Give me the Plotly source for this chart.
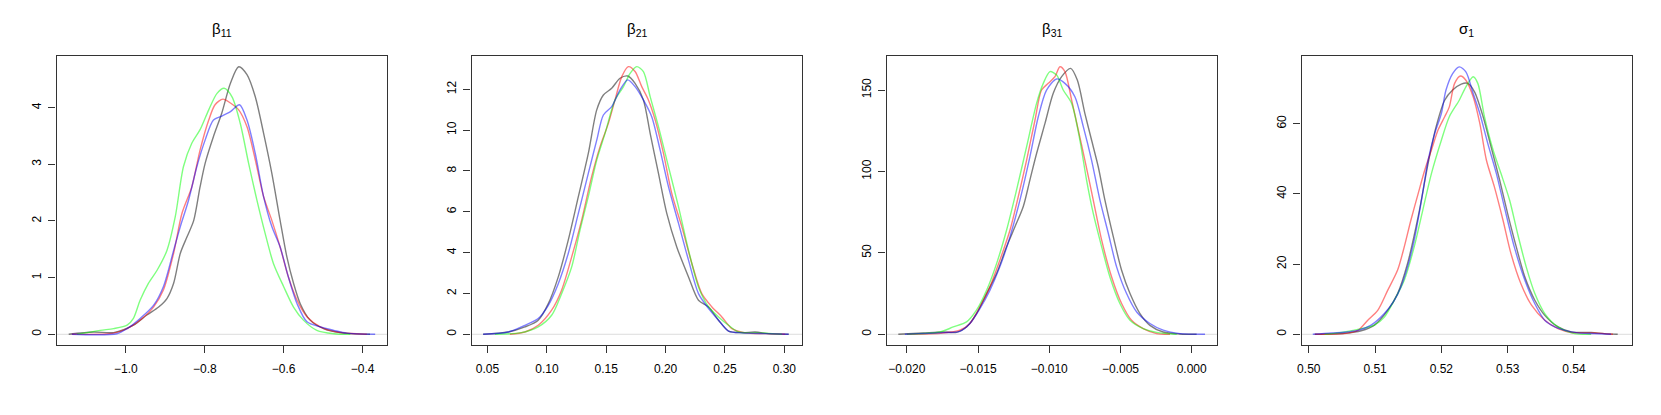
import plotly.graph_objects as go

W, H = 1661, 415

# ---- panel 1: beta_11 ----
b11_gray_x = [-1.145, -1.082, -1.031, -0.981, -0.947, -0.917, -0.896, -0.879, -0.862, -0.845, -0.828, -0.812, -0.799, -0.778, -0.757, -0.735, -0.714, -0.693, -0.672, -0.651, -0.630, -0.609, -0.592, -0.575, -0.558, -0.533, -0.499, -0.457, -0.381]
b11_gray_y = [0, 0.04, 0.03, 0.16, 0.34, 0.48, 0.63, 0.90, 1.43, 1.72, 2.01, 2.60, 3.02, 3.49, 3.90, 4.43, 4.72, 4.58, 4.19, 3.55, 2.84, 2.01, 1.37, 0.90, 0.54, 0.25, 0.10, 0.03, 0]
b11_red_x = [-1.137, -1.031, -0.997, -0.964, -0.930, -0.905, -0.879, -0.858, -0.833, -0.812, -0.790, -0.774, -0.754, -0.735, -0.714, -0.693, -0.672, -0.651, -0.630, -0.609, -0.588, -0.566, -0.541, -0.507, -0.465, -0.389]
b11_red_y = [0, 0.02, 0.10, 0.25, 0.48, 0.78, 1.43, 2.13, 2.60, 3.25, 3.78, 4.05, 4.15, 4.08, 3.96, 3.66, 3.08, 2.43, 2.01, 1.54, 1.01, 0.60, 0.31, 0.13, 0.04, 0]
b11_green_x = [-1.124, -1.065, -1.031, -0.997, -0.981, -0.964, -0.943, -0.921, -0.896, -0.875, -0.854, -0.833, -0.812, -0.790, -0.769, -0.751, -0.731, -0.710, -0.689, -0.668, -0.647, -0.626, -0.600, -0.575, -0.550, -0.516, -0.473, -0.431]
b11_green_y = [0, 0.07, 0.10, 0.16, 0.28, 0.60, 0.90, 1.13, 1.48, 2.07, 2.96, 3.37, 3.61, 3.96, 4.25, 4.34, 4.19, 3.72, 3.02, 2.37, 1.78, 1.25, 0.84, 0.48, 0.25, 0.07, 0.01, 0]
b11_blue_x = [-1.137, -1.023, -0.997, -0.964, -0.930, -0.905, -0.879, -0.862, -0.841, -0.820, -0.799, -0.778, -0.757, -0.735, -0.712, -0.693, -0.672, -0.651, -0.630, -0.609, -0.588, -0.566, -0.541, -0.507, -0.473, -0.440, -0.368]
b11_blue_y = [0, 0.01, 0.10, 0.28, 0.51, 0.84, 1.48, 1.90, 2.37, 2.96, 3.43, 3.78, 3.85, 3.93, 4.05, 3.78, 3.19, 2.43, 1.90, 1.54, 1.01, 0.54, 0.22, 0.13, 0.07, 0.02, 0]

# ---- panel 2: beta_21 ----
b21_gray_x = [0.0463, 0.0674, 0.0815, 0.0927, 0.1012, 0.1096, 0.1180, 0.1265, 0.1349, 0.1420, 0.1476, 0.1546, 0.1616, 0.1681, 0.1743, 0.1813, 0.1870, 0.1940, 0.2010, 0.2094, 0.2193, 0.2277, 0.2362, 0.2446, 0.2530, 0.2643, 0.2755, 0.2868, 0.3037]
b21_gray_y = [0, 0.11, 0.36, 0.69, 1.50, 2.81, 4.61, 6.74, 8.86, 10.99, 11.72, 12.05, 12.54, 12.65, 12.29, 11.48, 9.84, 7.88, 5.92, 4.28, 2.81, 1.67, 1.34, 0.69, 0.16, 0.08, 0.11, 0.03, 0]
b21_red_x = [0.0688, 0.0815, 0.0927, 0.1040, 0.1124, 0.1209, 0.1293, 0.1377, 0.1448, 0.1518, 0.1574, 0.1631, 0.1687, 0.1743, 0.1799, 0.1855, 0.1912, 0.1982, 0.2052, 0.2137, 0.2221, 0.2305, 0.2390, 0.2474, 0.2559, 0.2671, 0.2840, 0.3008]
b21_red_y = [0, 0.11, 0.44, 1.18, 2.16, 3.79, 5.59, 7.72, 9.19, 10.33, 11.48, 12.62, 13.11, 12.87, 12.13, 11.48, 10.50, 8.86, 6.90, 5.26, 3.47, 1.99, 1.34, 0.85, 0.28, 0.07, 0.03, 0]
b21_green_x = [0.0562, 0.0787, 0.0927, 0.1040, 0.1124, 0.1209, 0.1279, 0.1349, 0.1420, 0.1490, 0.1574, 0.1645, 0.1701, 0.1757, 0.1813, 0.1870, 0.1940, 0.2024, 0.2109, 0.2193, 0.2277, 0.2362, 0.2446, 0.2530, 0.2615, 0.2783, 0.2924, 0.2980]
b21_green_y = [0, 0.08, 0.36, 0.93, 1.99, 3.30, 5.10, 6.74, 8.53, 9.84, 11.48, 12.13, 12.78, 13.11, 12.87, 11.64, 10.17, 8.21, 6.24, 4.12, 2.32, 1.34, 0.85, 0.44, 0.11, 0.07, 0.02, 0]
b21_blue_x = [0.0463, 0.0674, 0.0815, 0.0927, 0.1012, 0.1096, 0.1180, 0.1265, 0.1349, 0.1420, 0.1476, 0.1546, 0.1616, 0.1681, 0.1743, 0.1813, 0.1883, 0.1954, 0.2024, 0.2109, 0.2193, 0.2277, 0.2362, 0.2446, 0.2530, 0.2643, 0.2840, 0.3037]
b21_blue_y = [0, 0.11, 0.44, 0.77, 1.42, 2.48, 3.96, 5.92, 7.88, 9.51, 10.74, 11.15, 11.97, 12.46, 12.13, 11.48, 10.66, 9.02, 7.23, 5.43, 3.63, 1.99, 1.26, 0.69, 0.16, 0.07, 0.03, 0]

# ---- panel 3: beta_31 ----
b31_gray_x = [-0.0206, -0.01885, -0.01745, -0.01651, -0.01581, -0.01511, -0.0144, -0.0137, -0.0130, -0.01241, -0.01183, -0.01136, -0.01089, -0.0103, -0.00972, -0.00913, -0.0085, -0.00803, -0.0075, -0.00703, -0.00656, -0.00609, -0.0055, -0.00492, -0.00433, -0.00363, -0.00293, -0.0020, -0.00082, 0.00035]
b31_gray_y = [0, 0.8, 1.4, 1.2, 4.5, 12.7, 25, 37.3, 53.7, 66, 78.3, 94.7, 111, 129.5, 148, 158.2, 163.3, 156.1, 135.7, 119.3, 102.9, 82.4, 59.8, 39.3, 25, 12.7, 5.5, 1.4, 0.2, 0]
b31_red_x = [-0.0200, -0.01745, -0.01628, -0.01557, -0.01487, -0.01417, -0.01347, -0.01276, -0.01218, -0.01159, -0.0110, -0.01054, -0.01007, -0.0096, -0.00925, -0.0089, -0.00843, -0.00796, -0.0075, -0.00691, -0.00632, -0.00562, -0.00492, -0.00422, -0.0034, -0.00246, -0.00152]
b31_red_y = [0, 0.8, 2.5, 6.6, 16.8, 29.1, 45.5, 63.9, 84.4, 107, 131.6, 150, 154.1, 158.2, 164.3, 161.3, 143.9, 125.4, 107, 82.4, 57.8, 35.2, 18.9, 8.6, 3.5, 0.4, 0]
b31_green_x = [-0.0200, -0.01768, -0.01674, -0.01581, -0.01511, -0.0144, -0.0137, -0.0130, -0.0123, -0.01159, -0.01089, -0.01042, -0.00995, -0.00948, -0.00902, -0.00843, -0.00785, -0.00738, -0.00691, -0.00632, -0.00574, -0.00504, -0.00433, -0.0034, -0.00246, -0.00105]
b31_green_y = [0, 1.4, 4.5, 7.6, 14.8, 27, 43.4, 63.9, 88.5, 115.2, 141.8, 154.1, 161.3, 159.2, 150, 141.8, 119.3, 94.7, 74.2, 53.7, 35.2, 18.9, 8.6, 3.5, 1.2, 0]
b31_blue_x = [-0.02014, -0.01745, -0.01628, -0.01557, -0.01487, -0.01417, -0.01347, -0.01276, -0.01206, -0.01136, -0.01077, -0.01019, -0.00948, -0.0089, -0.0082, -0.00761, -0.00703, -0.00644, -0.00585, -0.00527, -0.00457, -0.00386, -0.00293, -0.0020, -0.00082, 0.00094]
b31_blue_y = [0, 1.0, 1.8, 6.6, 15.8, 27, 41.4, 59.8, 82.4, 109, 133.6, 150, 156.8, 154.1, 145.9, 127.5, 107, 82.4, 61.9, 41.4, 25, 13.7, 6.6, 2.5, 0.4, 0]

# ---- panel 4: sigma_1 ----
s1_gray_x = [0.5009, 0.5054, 0.5079, 0.5099, 0.5119, 0.5134, 0.5149, 0.5165, 0.5180, 0.5192, 0.5205, 0.5217, 0.5230, 0.5240, 0.5250, 0.5263, 0.5275, 0.5288, 0.5300, 0.5313, 0.5326, 0.5341, 0.5356, 0.5376, 0.5396, 0.5426, 0.5446, 0.5466]
s1_gray_y = [0, 0.3, 1.0, 2.6, 6.8, 11.6, 20.2, 33.5, 48.7, 59.1, 66.7, 69.6, 71.3, 71.5, 69.1, 62.0, 53.4, 43.9, 34.4, 24.9, 16.3, 9.7, 5.4, 2.1, 0.7, 0.5, 0.2, 0]
s1_red_x = [0.5009, 0.5054, 0.5074, 0.5089, 0.5104, 0.5119, 0.5134, 0.5144, 0.5154, 0.5165, 0.5175, 0.5185, 0.5195, 0.5205, 0.5212, 0.5220, 0.5229, 0.5237, 0.5248, 0.5258, 0.5268, 0.5280, 0.5293, 0.5305, 0.5320, 0.5336, 0.5356, 0.5376, 0.5396, 0.5431, 0.5459]
s1_red_y = [0, 0.2, 1.1, 4.0, 6.8, 12.5, 18.3, 24.9, 32.5, 40.1, 46.8, 52.5, 58.2, 62.0, 64.8, 71.5, 73.6, 72.4, 67.7, 60.1, 49.6, 42.0, 32.5, 23.0, 14.4, 8.3, 4.0, 1.6, 0.5, 0.4, 0]
s1_green_x = [0.5024, 0.5054, 0.5079, 0.5099, 0.5114, 0.5129, 0.5144, 0.5159, 0.5172, 0.5185, 0.5200, 0.5212, 0.5227, 0.5237, 0.5248, 0.5255, 0.5265, 0.5278, 0.5290, 0.5303, 0.5315, 0.5328, 0.5341, 0.5356, 0.5376, 0.5401, 0.5426]
s1_green_y = [0, 0.7, 1.6, 2.6, 4.9, 9.7, 15.4, 24.9, 35.4, 45.8, 55.3, 62.0, 66.7, 70.5, 73.4, 71.5, 62.0, 52.5, 45.8, 38.2, 28.7, 19.2, 11.6, 5.9, 2.1, 0.2, 0]
s1_blue_x = [0.5006, 0.5034, 0.5054, 0.5074, 0.5094, 0.5114, 0.5129, 0.5139, 0.5149, 0.5159, 0.5170, 0.5180, 0.5190, 0.5200, 0.5207, 0.5217, 0.5227, 0.5237, 0.5248, 0.5258, 0.5270, 0.5283, 0.5295, 0.5310, 0.5326, 0.5341, 0.5356, 0.5371, 0.5386, 0.5406, 0.5431, 0.5456]
s1_blue_y = [0, 0.4, 0.6, 1.1, 2.6, 5.9, 9.7, 13.5, 19.2, 26.8, 38.2, 49.6, 57.2, 62.9, 69.6, 74.3, 76.2, 74.8, 68.6, 62.9, 54.4, 45.8, 36.3, 24.9, 15.4, 8.7, 4.0, 2.1, 1.1, 0.4, 0.2, 0]

titles = ["β<sub>11</sub>", "β<sub>21</sub>", "β<sub>31</sub>", "σ<sub>1</sub>"]
x_ticks = [[-1.0, -0.8, -0.6, -0.4], [0.05, 0.10, 0.15, 0.20, 0.25, 0.30],
           [-0.020, -0.015, -0.010, -0.005, 0.000], [0.50, 0.51, 0.52, 0.53, 0.54]]
x_fmt = [".1f", ".2f", ".3f", ".2f"]
y_ticks = [[0, 1, 2, 3, 4], [0, 2, 4, 6, 8, 10, 12], [0, 50, 100, 150], [0, 20, 40, 60]]
x_ranges = [[-1.176, -0.338], [0.0365, 0.3149], [-0.02143, 0.00178], [0.4989, 0.54876]]
y_ranges = [[-0.189, 4.91], [-0.525, 13.63], [-6.58, 170.9], [-3.05, 79.3]]

panels = [
    [(b11_gray_x, b11_gray_y), (b11_red_x, b11_red_y), (b11_green_x, b11_green_y), (b11_blue_x, b11_blue_y)],
    [(b21_gray_x, b21_gray_y), (b21_red_x, b21_red_y), (b21_green_x, b21_green_y), (b21_blue_x, b21_blue_y)],
    [(b31_gray_x, b31_gray_y), (b31_red_x, b31_red_y), (b31_green_x, b31_green_y), (b31_blue_x, b31_blue_y)],
    [(s1_gray_x, s1_gray_y), (s1_red_x, s1_red_y), (s1_green_x, s1_green_y), (s1_blue_x, s1_blue_y)],
]
colors = ["rgba(0,0,0,0.5)", "rgba(255,0,0,0.5)", "rgba(0,255,0,0.5)", "rgba(0,0,255,0.5)"]

FONT = "Liberation Sans, Arial, sans-serif"
fig = go.Figure()
layout = dict(
    template="none",
    width=W, height=H, showlegend=False,
    paper_bgcolor="white", plot_bgcolor="white",
    margin=dict(l=0, r=0, t=0, b=0, autoexpand=False),
    font=dict(family=FONT, size=12, color="black"),
    shapes=[], annotations=[],
)

y_dom = [(415 - 345) / H, (415 - 56) / H]
for i in range(4):
    n = "" if i == 0 else str(i + 1)
    left = 56.5 + 415 * i
    right = 387 + 415 * i
    for (xs, ys), c in zip(panels[i], colors):
        fig.add_trace(go.Scatter(
            x=xs, y=ys, mode="lines", xaxis="x" + n, yaxis="y" + n,
            line=dict(color=c, width=1.4, shape="spline", smoothing=0.8),
            hoverinfo="skip",
        ))
    axis_common = dict(
        showline=True, mirror=True, linecolor="#333", linewidth=1.3,
        ticks="outside", ticklen=7, tickcolor="#333", tickwidth=1,
        showgrid=False, zeroline=False, automargin=False,
        tickfont=dict(size=12, family=FONT, color="black"),
    )
    layout["xaxis" + n] = dict(
        axis_common, domain=[left / W, right / W], anchor="y" + n,
        range=x_ranges[i], tickvals=x_ticks[i], tickformat=x_fmt[i],
        ticklabelstandoff=5,
    )
    layout["yaxis" + n] = dict(
        axis_common, domain=y_dom, anchor="x" + n,
        range=y_ranges[i], tickvals=y_ticks[i], tickangle=-90,
        ticklabelstandoff=3,
    )
    layout["shapes"].append(dict(
        type="line", xref="x" + n + " domain", yref="y" + n,
        x0=0, x1=1, y0=0, y1=0, line=dict(color="#dcdcdc", width=1), layer="below",
    ))
    layout["annotations"].append(dict(
        text=titles[i], x=(left + right) / 2 / W, y=(H - 29) / H,
        xref="paper", yref="paper", showarrow=False,
        xanchor="center", yanchor="middle", font=dict(size=15, family=FONT),
    ))

fig.update_layout(**layout)
fig.write_html(
    "out.html",
    config={"displayModeBar": False},
    post_script="document.body.style.margin='0';document.body.style.overflow='hidden';",
)
